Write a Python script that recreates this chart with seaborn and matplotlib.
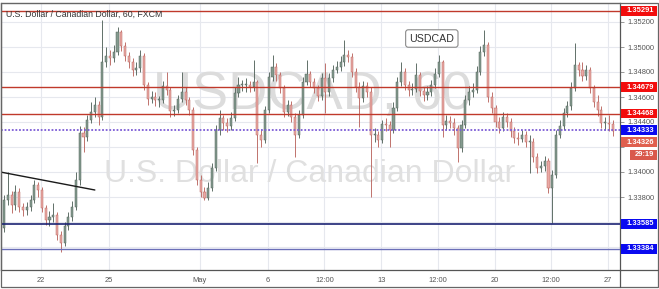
import numpy as np
import pandas as pd
import matplotlib
matplotlib.use("Agg")
import matplotlib.pyplot as plt
import matplotlib.transforms as mtransforms
from matplotlib.patches import Rectangle
from matplotlib import font_manager
import seaborn as sns

# ---------------- data (4-hour candles, USDCAD 60) ----------------
first_open = 1.33500
bar_hours = 4
start_hour = -43

closes = [
    1.33552, 1.33776, 1.33816, 1.33736, 1.33840, 1.33720, 1.33696, 1.33720, 1.33776, 1.33896,
    1.33856, 1.33712, 1.33616, 1.33640, 1.33656, 1.33496, 1.33432, 1.33568, 1.33640, 1.33720,
    1.33936, 1.34312, 1.34280, 1.34416, 1.34480, 1.34536, 1.34440, 1.34880, 1.34928, 1.34912,
    1.34960, 1.35120, 1.35008, 1.34928, 1.34880, 1.34816, 1.34832, 1.34928, 1.34696, 1.34584,
    1.34600, 1.34576, 1.34576, 1.34688, 1.34656, 1.34488, 1.34496, 1.34584, 1.34640, 1.34576,
    1.34496, 1.34176, 1.33936, 1.33840, 1.33792, 1.33872, 1.34032, 1.34336, 1.34432, 1.34392,
    1.34368, 1.34432, 1.34632, 1.34696, 1.34696, 1.34696, 1.34680, 1.34720, 1.34296, 1.34256,
    1.34496, 1.34760, 1.34840, 1.34776, 1.34672, 1.34480, 1.34536, 1.34440, 1.34296, 1.34456,
    1.34720, 1.34784, 1.34720, 1.34672, 1.34608, 1.34752, 1.34640, 1.34752, 1.34816, 1.34840,
    1.34880, 1.34936, 1.34920, 1.34800, 1.34680, 1.34592, 1.34688, 1.34640, 1.34296, 1.34296,
    1.34256, 1.34384, 1.34376, 1.34336, 1.34512, 1.34720, 1.34800, 1.34696, 1.34656, 1.34664,
    1.34776, 1.34648, 1.34616, 1.34640, 1.34696, 1.34784, 1.34880, 1.34376, 1.34408, 1.34392,
    1.34352, 1.34192, 1.34376, 1.34576, 1.34640, 1.34656, 1.34800, 1.34960, 1.35016, 1.34600,
    1.34512, 1.34400, 1.34352, 1.34440, 1.34400, 1.34328, 1.34272, 1.34264, 1.34296, 1.34240,
    1.34240, 1.34120, 1.34032, 1.34048, 1.34088, 1.33872, 1.33976, 1.34296, 1.34368, 1.34472,
    1.34528, 1.34672, 1.34856, 1.34816, 1.34768, 1.34816, 1.34672, 1.34560, 1.34496, 1.34392,
    1.34392, 1.34384, 1.34326]

highs = [
    1.33600, 1.33820, 1.34000, 1.33850, 1.33896, 1.33870, 1.33750, 1.33760, 1.33820, 1.33936,
    1.33920, 1.33880, 1.33740, 1.33690, 1.33752, 1.33680, 1.33530, 1.33600, 1.33680, 1.33770,
    1.34000, 1.34370, 1.34360, 1.34460, 1.34560, 1.34600, 1.34570, 1.35216, 1.35000, 1.34980,
    1.35020, 1.35160, 1.35140, 1.35040, 1.34960, 1.34910, 1.34880, 1.34976, 1.34950, 1.34720,
    1.34650, 1.34640, 1.34610, 1.34730, 1.34800, 1.34680, 1.34540, 1.34620, 1.34800, 1.34680,
    1.34600, 1.34520, 1.34200, 1.33980, 1.33880, 1.33920, 1.34070, 1.34380, 1.34500, 1.34460,
    1.34430, 1.34480, 1.34680, 1.34760, 1.34740, 1.34750, 1.34730, 1.34896, 1.34740, 1.34340,
    1.34530, 1.34800, 1.34936, 1.34870, 1.34800, 1.34700, 1.34580, 1.34570, 1.34470, 1.34500,
    1.34760, 1.34896, 1.34810, 1.34750, 1.34700, 1.34790, 1.34872, 1.34790, 1.34860, 1.34890,
    1.34930, 1.35056, 1.34980, 1.34950, 1.34830, 1.34720, 1.34730, 1.34720, 1.34680, 1.34350,
    1.34330, 1.34420, 1.34430, 1.34410, 1.34560, 1.34760, 1.34880, 1.34830, 1.34730, 1.34710,
    1.34872, 1.34800, 1.34680, 1.34690, 1.34740, 1.34830, 1.34936, 1.34900, 1.34460, 1.34450,
    1.34430, 1.34380, 1.34420, 1.34620, 1.34690, 1.34710, 1.34850, 1.35010, 1.35136, 1.35040,
    1.34640, 1.34540, 1.34440, 1.34480, 1.34470, 1.34430, 1.34360, 1.34320, 1.34340, 1.34330,
    1.34300, 1.34270, 1.34150, 1.34090, 1.34130, 1.34110, 1.34020, 1.34340, 1.34420, 1.34510,
    1.34570, 1.34720, 1.35032, 1.34880, 1.34880, 1.34860, 1.34840, 1.34700, 1.34620, 1.34530,
    1.34440, 1.34460, 1.34420]

lows = [
    1.33440, 1.33520, 1.33740, 1.33670, 1.33700, 1.33680, 1.33650, 1.33660, 1.33690, 1.33750,
    1.33800, 1.33680, 1.33580, 1.33570, 1.33600, 1.33460, 1.33360, 1.33410, 1.33540, 1.33610,
    1.33700, 1.33900, 1.34160, 1.34250, 1.34390, 1.34440, 1.34376, 1.34420, 1.34840, 1.34860,
    1.34880, 1.34940, 1.34970, 1.34890, 1.34830, 1.34770, 1.34780, 1.34800, 1.34660, 1.34540,
    1.34550, 1.34530, 1.34520, 1.34550, 1.34620, 1.34440, 1.34450, 1.34470, 1.34560, 1.34540,
    1.34460, 1.34140, 1.33900, 1.33800, 1.33776, 1.33780, 1.33850, 1.34010, 1.34300, 1.34340,
    1.34320, 1.34340, 1.34410, 1.34600, 1.34650, 1.34640, 1.34640, 1.34650, 1.34072, 1.34200,
    1.34230, 1.34470, 1.34730, 1.34730, 1.34630, 1.34440, 1.34450, 1.34400, 1.34120, 1.34270,
    1.34430, 1.34700, 1.34680, 1.34630, 1.34570, 1.34580, 1.34472, 1.34610, 1.34720, 1.34790,
    1.34810, 1.34850, 1.34880, 1.34760, 1.34640, 1.34360, 1.34560, 1.34600, 1.33800, 1.34240,
    1.34200, 1.34230, 1.34330, 1.34200, 1.34310, 1.34490, 1.34690, 1.34660, 1.34610, 1.34620,
    1.34640, 1.34610, 1.34570, 1.34580, 1.34610, 1.34670, 1.34760, 1.34280, 1.34340, 1.34350,
    1.34300, 1.34080, 1.34160, 1.34350, 1.34540, 1.34600, 1.34630, 1.34780, 1.34930, 1.34560,
    1.34470, 1.34360, 1.34310, 1.34330, 1.34360, 1.34280, 1.34230, 1.34220, 1.34240, 1.34200,
    1.33992, 1.34080, 1.33990, 1.34000, 1.34010, 1.33830, 1.33592, 1.33950, 1.34270, 1.34340,
    1.34440, 1.34500, 1.34650, 1.34770, 1.34730, 1.34740, 1.34630, 1.34520, 1.34450, 1.34350,
    1.34340, 1.34330, 1.34290]

# trading-hour positions of the date labels (0 = Apr 22, 00:00)
tick_hours = [0, 72, 168, 240, 300, 360, 420, 480, 540, 600]
tick_labels = ["22", "25", "May", "6", "12:00", "13", "12:00", "20", "12:00", "27"]
price_ticks = [1.334, 1.336, 1.338, 1.340, 1.342, 1.344, 1.346, 1.348, 1.350, 1.352]
hidden_price_ticks = [1.334, 1.336, 1.342]   # covered by the level tags

resistance_levels = [1.35291, 1.34679, 1.34468]
pivot_level = 1.34333
support_levels = [1.33585, 1.33384]
last_price = 1.34326
countdown = "29:19"

trend_hours = [-43, 57]
trend_prices = [1.34000, 1.33856]

# ---------------- build frame ----------------
n = len(closes)
opens = [first_open] + closes[:-1]
df = pd.DataFrame({
    "hour": start_hour + bar_hours * np.arange(n),
    "open": opens, "high": highs, "low": lows, "close": closes,
})
df["up"] = df["close"] >= df["open"]

# ---------------- styling ----------------
sns.set_theme(style="white")
names = {f.name for f in font_manager.fontManager.ttflist}
base_family = "Liberation Sans" if "Liberation Sans" in names else "DejaVu Sans"
wm_family = "Liberation Sans Narrow" if "Liberation Sans Narrow" in names else base_family
plt.rcParams["font.family"] = [base_family, "DejaVu Sans"]

fig = plt.figure(figsize=(6.59, 2.89), dpi=100)
fig.patch.set_facecolor("white")
ax = fig.add_axes([1 / 659, 19 / 289, 619 / 659, 267 / 289])
ax.set_facecolor("white")
ax.set_xlim(-42.3, 612.7)
ax.set_ylim(1.33216, 1.35352)

# grid
for h in tick_hours:
    ax.axvline(h, color="#e6e8ee", lw=0.8, zorder=0)
for p in price_ticks:
    ax.axhline(p, color="#e6e8ee", lw=0.8, zorder=0)

# watermarks
wm_size = 47 if wm_family.endswith("Narrow") else 39
ax.text(0.504, 0.655, "USDCAD, 60", transform=ax.transAxes, ha="center", va="center",
        fontsize=wm_size, color="#dcdcdc", family=wm_family, zorder=0.5)
ax.text(0.498, 0.36, "U.S. Dollar / Canadian Dollar", transform=ax.transAxes,
        ha="center", va="center", fontsize=23, color="#e0e0e0", zorder=0.5)

# candles
up_face, up_edge = "#849a8e", "#56665e"
dn_face, dn_edge = "#e9a9a5", "#bb6862"
wick_cols = np.where(df["up"], up_edge, dn_edge)
ax.vlines(df["hour"], df["low"], df["high"], colors=wick_cols, lw=0.65, zorder=2)
body_bottom = np.minimum(df["open"], df["close"])
body_h = np.maximum(np.abs(df["close"] - df["open"]), 0.00004)
ax.bar(df["hour"], body_h, bottom=body_bottom, width=2.2,
       color=np.where(df["up"], up_face, dn_face),
       edgecolor=wick_cols, linewidth=0.35, zorder=3)

# trendline (seaborn)
trend_df = pd.DataFrame({"hour": trend_hours, "price": trend_prices})
sns.lineplot(data=trend_df, x="hour", y="price", ax=ax, color="#1a1a1a", lw=1.0,
             zorder=4, legend=False)

# horizontal levels
for p in resistance_levels:
    ax.axhline(p, color="#c0392b", lw=1.0, zorder=4)
ax.axhline(pivot_level, color="#7c5cd6", lw=1.3, ls=(0, (1, 1)), zorder=4)
ax.axhline(support_levels[0], color="#1c2373", lw=1.2, zorder=4)
ax.axhline(support_levels[1], color="#6b6fb8", lw=1.0, zorder=4)

# axes cosmetics
ax.set_xlabel("")
ax.set_ylabel("")
ax.set_xticks(tick_hours)
ax.set_xticklabels(tick_labels)
ax.set_yticks(price_ticks)
ax.set_yticklabels(["" if p in hidden_price_ticks else f"{p:.5f}" for p in price_ticks])
ax.yaxis.tick_right()
ax.tick_params(axis="x", length=3, width=0.6, color="#888888", pad=2,
               labelsize=5.4, labelcolor="#555555")
ax.tick_params(axis="y", length=3, width=0.6, color="#888888", pad=2,
               labelsize=5.4, labelcolor="#555555")
for side, col in [("left", "#555555"), ("right", "#555555"),
                  ("bottom", "#555555"), ("top", "#9a9a9a")]:
    ax.spines[side].set_visible(True)
    ax.spines[side].set_color(col)
    ax.spines[side].set_linewidth(0.9)

# price-axis label boxes
blend = mtransforms.blended_transform_factory(ax.transAxes, ax.transData)
box_h = 0.00078


def price_box(y, text, face, x0=1.0016, w=0.0582):
    ax.add_patch(Rectangle((x0, y - box_h / 2), w, box_h, transform=blend,
                           facecolor=face, edgecolor="none", clip_on=False, zorder=6))
    ax.text(x0 + w / 2 + 0.002, y, text, transform=blend, ha="center", va="center",
            color="white", fontsize=5.4, fontweight="bold", clip_on=False, zorder=7)


for p in resistance_levels:
    price_box(p, f"{p:.5f}", "#f20d0d")
price_box(pivot_level, f"{pivot_level:.5f}", "#0a0af0")
for p in support_levels:
    price_box(p, f"{p:.5f}", "#0a0af0")
price_box(last_price - 0.00086, f"{last_price:.5f}", "#e0604f")
price_box(last_price - 0.00190, countdown, "#d9594c", x0=1.0162, w=0.0436)

# chart title and symbol tag
ax.text(0.008, 0.958, "U.S. Dollar / Canadian Dollar, 60, FXCM", transform=ax.transAxes,
        ha="left", va="center", fontsize=6.3, color="#333333", zorder=8)
ax.text(0.696, 0.867, "USDCAD", transform=ax.transAxes, ha="center", va="center",
        fontsize=7.7, color="#333333", zorder=8,
        bbox=dict(boxstyle="round,pad=0.35,rounding_size=0.25", fc="white",
                  ec="#8a8a8a", lw=0.8))

# outer frame and extended separators
fig.add_artist(Rectangle((1 / 659, 2 / 289), 657 / 659, 284 / 289, transform=fig.transFigure,
                         fill=False, ec="#666666", lw=0.9))
fig.add_artist(plt.Line2D([620 / 659, 658 / 659], [19 / 289, 19 / 289],
                          transform=fig.transFigure, color="#555555", lw=0.9))
fig.add_artist(plt.Line2D([620 / 659, 620 / 659], [2 / 289, 19 / 289],
                          transform=fig.transFigure, color="#555555", lw=0.9))

fig.savefig("out.png", dpi=100)
